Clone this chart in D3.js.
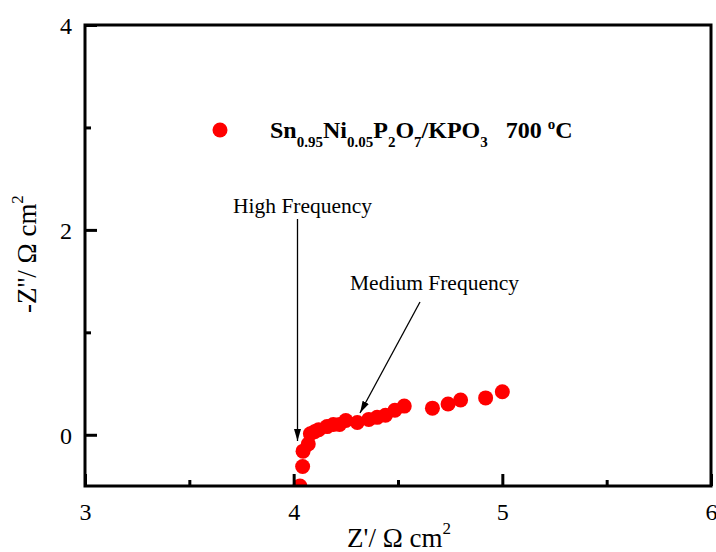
<!DOCTYPE html>
<html>
<head>
<meta charset="utf-8">
<script src="https://cdn.jsdelivr.net/npm/d3@7"></script>
<style>
  body { margin: 0; background: #fff; }
  svg { display: block; font-family: "Liberation Serif", "Times New Roman", serif; }
</style>
</head>
<body>
<svg id="chart" width="716" height="552"></svg>
<script>
// Nyquist data: Z' and -Z'' (Ω cm²)
const zReal = [4.03, 4.043, 4.045, 4.07, 4.08, 4.10, 4.12, 4.16, 4.19, 4.22, 4.25,
               4.305, 4.36, 4.40, 4.44, 4.485, 4.53, 4.665, 4.74, 4.80, 4.92, 5.00];
const zImag = [-0.50, -0.31, -0.16, -0.09, 0.01, 0.03, 0.05, 0.08, 0.10, 0.10, 0.14,
               0.12, 0.15, 0.17, 0.19, 0.24, 0.28, 0.26, 0.30, 0.34, 0.36, 0.42];

const xMajor = [3, 4, 5, 6];
const xMinor = [3.5, 4.5, 5.5];
const yMajor = [0, 2, 4];
const yMinor = [1, 3];

const svg = d3.select("#chart");

// plot frame
const pLeft = 85, pRight = 711, pTop = 25, pBottom = 486;

const x = d3.scaleLinear().domain([3, 6]).range([pLeft, pRight]);
const y = d3.scaleLinear().domain([-0.5, 4]).range([pBottom, pTop]);

const defs = svg.append("defs");
defs.append("clipPath").attr("id", "plotClip")
  .append("rect")
  .attr("x", pLeft).attr("y", pTop)
  .attr("width", pRight - pLeft).attr("height", pBottom - pTop);

defs.append("marker")
  .attr("id", "arrow")
  .attr("viewBox", "0 0 12 7")
  .attr("refX", 12)
  .attr("refY", 3.5)
  .attr("markerWidth", 12)
  .attr("markerHeight", 7)
  .attr("markerUnits", "userSpaceOnUse")
  .attr("orient", "auto")
  .append("path")
  .attr("d", "M 0 0 L 12 3.5 L 0 7 z")
  .attr("fill", "#000");

// points (drawn before the frame so the axis line sits on top)
svg.append("g").attr("clip-path", "url(#plotClip)")
  .selectAll("circle")
  .data(zReal.map((v, i) => [v, zImag[i]]))
  .enter().append("circle")
  .attr("cx", d => x(d[0]))
  .attr("cy", d => y(d[1]))
  .attr("r", 7.5)
  .attr("fill", "#ff0000");

// axes with inward ticks
const xAxis = d3.axisBottom(x).tickValues(xMajor).tickSize(-12).tickFormat(d3.format("d"));
const xAxisMinor = d3.axisBottom(x).tickValues(xMinor).tickSize(-6).tickFormat("");
const yAxis = d3.axisLeft(y).tickValues(yMajor).tickSize(-12).tickFormat(d3.format("d"));
const yAxisMinor = d3.axisLeft(y).tickValues(yMinor).tickSize(-6).tickFormat("");

function styleAxis(g) {
  g.select(".domain").remove();
  g.selectAll(".tick line").attr("stroke", "#000").attr("stroke-width", 3);
  g.selectAll(".tick text")
    .attr("fill", "#000")
    .style("font-family", "'Liberation Serif', 'Times New Roman', serif")
    .style("font-size", "24px");
}

const gx = svg.append("g").attr("transform", `translate(0,${pBottom})`).call(xAxis).call(styleAxis);
svg.append("g").attr("transform", `translate(0,${pBottom})`).call(xAxisMinor).call(styleAxis);
const gy = svg.append("g").attr("transform", `translate(${pLeft},0)`).call(yAxis).call(styleAxis);
svg.append("g").attr("transform", `translate(${pLeft},0)`).call(yAxisMinor).call(styleAxis);

gx.selectAll(".tick text").attr("dy", null).attr("y", 34);
gy.selectAll(".tick text").attr("dy", "0.35em").attr("x", -13);

// frame box
svg.append("rect")
  .attr("x", pLeft).attr("y", pTop)
  .attr("width", pRight - pLeft).attr("height", pBottom - pTop)
  .attr("fill", "none")
  .attr("stroke", "#000")
  .attr("stroke-width", 3);

// axis titles
const xt = svg.append("text")
  .attr("x", 399).attr("y", 547)
  .attr("text-anchor", "middle")
  .style("font-size", "27px");
xt.append("tspan").text("Z'/ Ω cm");
xt.append("tspan").attr("dy", -13).style("font-size", "17px").text("2");

const yt = svg.append("text")
  .attr("transform", "translate(36,254) rotate(-90)")
  .attr("text-anchor", "middle")
  .style("font-size", "27px");
yt.append("tspan").text("-Z''/ Ω cm");
yt.append("tspan").attr("dy", -13).style("font-size", "17px").text("2");

// legend
svg.append("circle").attr("cx", 220).attr("cy", 130).attr("r", 7.5).attr("fill", "#ff0000");
const lg = svg.append("text")
  .attr("x", 270).attr("y", 138)
  .attr("xml:space", "preserve")
  .style("font-size", "24px")
  .style("font-weight", "bold");
const parts = [
  ["Sn", 0], ["0.95", 1], ["Ni", 0], ["0.05", 1], ["P", 0], ["2", 1],
  ["O", 0], ["7", 1], ["/KPO", 0], ["3", 1], ["   700 ", 0], ["o", 2], ["C", 0]
];
let shift = 0;
parts.forEach(([t, kind]) => {
  const target = kind === 1 ? 9 : kind === 2 ? -9 : 0;
  lg.append("tspan")
    .attr("dy", target - shift)
    .style("font-size", kind ? "15px" : "24px")
    .text(t);
  shift = target;
});

// annotations
svg.append("text").attr("x", 233).attr("y", 213).style("font-size", "21.5px").text("High Frequency");
svg.append("line")
  .attr("x1", 297.5).attr("y1", 219)
  .attr("x2", 297.5).attr("y2", 441)
  .attr("stroke", "#000").attr("stroke-width", 1.3)
  .attr("marker-end", "url(#arrow)");

svg.append("text").attr("x", 350).attr("y", 290).style("font-size", "21.5px").text("Medium Frequency");
svg.append("line")
  .attr("x1", 420).attr("y1", 302)
  .attr("x2", 360).attr("y2", 413)
  .attr("stroke", "#000").attr("stroke-width", 1.3)
  .attr("marker-end", "url(#arrow)");
</script>
</body>
</html>
